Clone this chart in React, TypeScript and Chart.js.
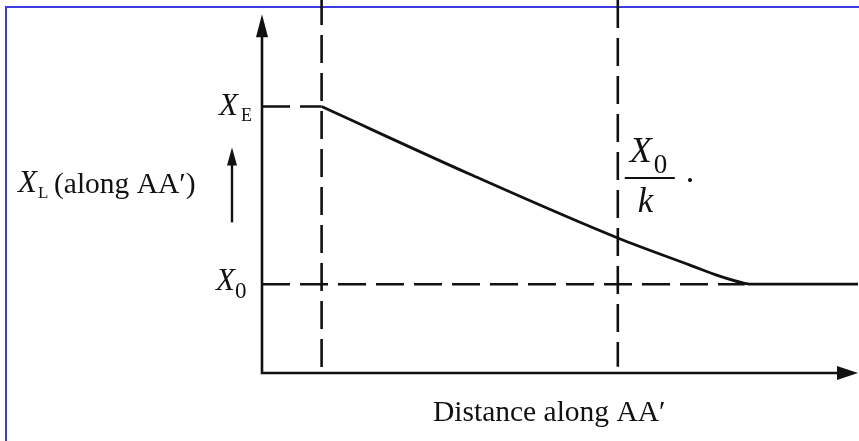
import React, { useEffect, useRef } from "react";
import { Chart, registerables } from "chart.js";

Chart.register(...registerables);

// Distance along AA' (x) and concentration level X_L (y), in arbitrary units.
const distanceRange = [0, 10];
const levelRange = [0, 4.2];
const axisTop = 4.04;

// Concentration profile: falls from the edge value X_E and levels off at the bulk value X_0.
const curveDistance = [1.0, 3.5, 5.97, 7.18, 7.68, 8.1, 8.25, 10.0];
const curveLevel = [3.0, 2.235, 1.52, 1.215, 1.09, 1.01, 1.0, 1.0];

// Reference levels and distances.
const levelXE = 3;
const levelX0 = 1;
const markDistances = [1, 5.97];
const markBottoms = [0, 0.07];
const x0DashEnd = 8.1;

const SERIF = '"Liberation Serif", "DejaVu Serif", serif';
const INK = "#111111";
const DASH = [28, 10];

const pts = (xs: number[], ys: number[]) => xs.map((x, i) => ({ x, y: ys[i] }));

function drawSubscripted(
  ctx: CanvasRenderingContext2D,
  main: string,
  mainSize: number,
  x: number,
  base: number,
  sub: string,
  subSize: number,
  subX: number,
  subBase: number
) {
  ctx.font = `italic ${mainSize}px ${SERIF}`;
  ctx.fillText(main, x, base);
  ctx.font = `${subSize}px ${SERIF}`;
  ctx.fillText(sub, subX, subBase);
}

const decorations = {
  id: "decorations",
  beforeDatasetsDraw(chart: any) {
    const ctx: CanvasRenderingContext2D = chart.ctx;
    ctx.save();
    ctx.strokeStyle = "#3d3de3";
    ctx.lineWidth = 2;
    ctx.beginPath();
    ctx.moveTo(6, chart.height + 5);
    ctx.lineTo(6, 7);
    ctx.lineTo(chart.width + 5, 7);
    ctx.stroke();
    ctx.restore();
  },
  afterDatasetsDraw(chart: any) {
    const ctx: CanvasRenderingContext2D = chart.ctx;
    const xs = chart.scales.x;
    const ys = chart.scales.y;
    const ox = xs.getPixelForValue(distanceRange[0]);
    const oy = ys.getPixelForValue(levelRange[0]);
    const tipY = ys.getPixelForValue(axisTop);
    const tipX = xs.getPixelForValue(distanceRange[1]);

    ctx.save();
    ctx.strokeStyle = INK;
    ctx.fillStyle = INK;
    ctx.lineWidth = 2.6;
    ctx.setLineDash([]);

    // axes
    ctx.beginPath();
    ctx.moveTo(ox, tipY + 18);
    ctx.lineTo(ox, oy);
    ctx.lineTo(tipX - 18, oy);
    ctx.stroke();
    // y arrowhead
    ctx.beginPath();
    ctx.moveTo(ox, tipY);
    ctx.lineTo(ox - 6, tipY + 23);
    ctx.lineTo(ox + 6, tipY + 23);
    ctx.closePath();
    ctx.fill();
    // x arrowhead
    ctx.beginPath();
    ctx.moveTo(tipX, oy);
    ctx.lineTo(tipX - 21, oy - 7);
    ctx.lineTo(tipX - 21, oy + 7);
    ctx.closePath();
    ctx.fill();

    const yE = ys.getPixelForValue(levelXE);
    const y0 = ys.getPixelForValue(levelX0);
    const mid = (yE + y0) / 2;

    // small upward arrow beside the y label
    const ax = ox - 30;
    ctx.lineWidth = 2.4;
    ctx.beginPath();
    ctx.moveTo(ax, mid + 27);
    ctx.lineTo(ax, mid - 34);
    ctx.stroke();
    ctx.beginPath();
    ctx.moveTo(ax, mid - 48);
    ctx.lineTo(ax - 5, mid - 30);
    ctx.lineTo(ax + 5, mid - 30);
    ctx.closePath();
    ctx.fill();

    ctx.textBaseline = "alphabetic";
    ctx.textAlign = "left";

    // level labels
    drawSubscripted(ctx, "X", 31, ox - 43, yE + 8, "E", 18, ox - 21, yE + 14);
    drawSubscripted(ctx, "X", 31, ox - 46, y0 + 6, "0", 23, ox - 27, y0 + 14);

    // y axis title
    drawSubscripted(ctx, "X", 31, 18, mid - 3, "L", 17, 38, mid + 3);
    ctx.font = `29.5px ${SERIF}`;
    ctx.fillText("(along AA\u2032)", 54, mid - 2);

    // x axis title
    ctx.font = `29.5px ${SERIF}`;
    ctx.fillText("Distance along AA\u2032", 433, oy + 48);

    // X_0 / k annotation next to the second marker
    const mx = xs.getPixelForValue(markDistances[1]);
    const barY = 178;
    drawSubscripted(ctx, "X", 36, mx + 12, barY - 16, "0", 27, mx + 36, barY - 5);
    ctx.lineWidth = 2;
    ctx.beginPath();
    ctx.moveTo(mx + 7, barY);
    ctx.lineTo(mx + 57, barY);
    ctx.stroke();
    ctx.font = `italic 35px ${SERIF}`;
    ctx.fillText("k", mx + 20, barY + 34);
    ctx.font = `34px ${SERIF}`;
    ctx.fillText(".", mx + 68, barY + 4);

    ctx.restore();
  },
};

export default function App() {
  const canvasRef = useRef<HTMLCanvasElement | null>(null);

  useEffect(() => {
    if (!canvasRef.current) return;
    const dashed = (data: { x: number; y: number }[], offset = 0) => ({
      data,
      showLine: true,
      borderColor: INK,
      borderWidth: 2.6,
      borderDash: DASH,
      borderDashOffset: offset,
      borderCapStyle: "butt",
      pointRadius: 0,
      tension: 0,
      clip: false,
    });
    const chart = new Chart(canvasRef.current, {
      type: "scatter",
      data: {
        datasets: [
          {
            data: pts(curveDistance, curveLevel),
            showLine: true,
            borderColor: INK,
            borderWidth: 2.8,
            pointRadius: 0,
            cubicInterpolationMode: "monotone",
            clip: false,
          } as any,
          dashed([{ x: 0, y: levelXE }, { x: markDistances[0], y: levelXE }]) as any,
          dashed([{ x: 0, y: levelX0 }, { x: x0DashEnd, y: levelX0 }]) as any,
          ...markDistances.map(
            (d, i) =>
              dashed([{ x: d, y: levelRange[1] }, { x: d, y: markBottoms[i] }], i === 0 ? 3 : 0) as any
          ),
        ],
      },
      options: {
        animation: false,
        responsive: false,
        devicePixelRatio: 1,
        layout: { padding: { left: 262, right: 1, top: 0, bottom: 68 } },
        scales: {
          x: { type: "linear", min: distanceRange[0], max: distanceRange[1], display: false },
          y: { type: "linear", min: levelRange[0], max: levelRange[1], display: false },
        },
        plugins: { legend: { display: false }, tooltip: { enabled: false } },
        events: [],
      },
      plugins: [decorations],
    });
    return () => chart.destroy();
  }, []);

  return (
    <div style={{ position: "fixed", left: 0, top: 0, width: 859, height: 441, background: "#fff" }}>
      <canvas ref={canvasRef} width={859} height={441} style={{ display: "block" }} />
    </div>
  );
}
